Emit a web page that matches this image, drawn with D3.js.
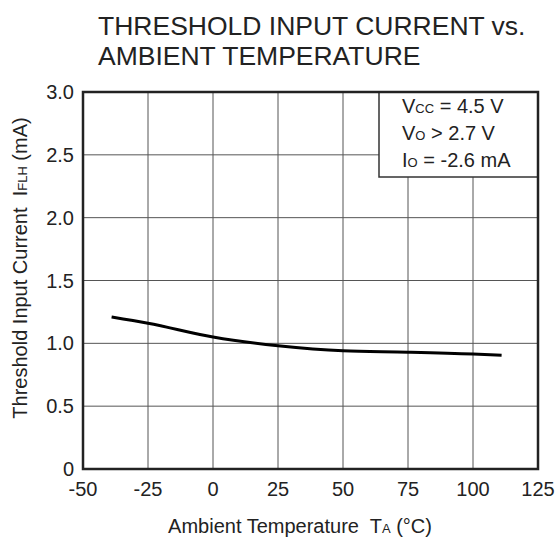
<!DOCTYPE html>
<meta charset="utf-8">
<title>Threshold Input Current vs. Ambient Temperature</title>
<style>

body {
  margin: 0;
  background-color: white;
}

text {
  font-family: "Liberation Sans", Arial, sans-serif;
  fill: #222;
  white-space: pre;
}

.grid line {
  stroke: #555;
  stroke-width: 1px;
}

</style>
<body>
<script src="https://cdnjs.cloudflare.com/ajax/libs/d3/7.8.5/d3.min.js"></script>
<script>

var temps = [-39, -25, 0, 25, 50, 75, 100, 111],
    currents = [1.21, 1.16, 1.05, 0.98, 0.94, 0.93, 0.915, 0.905];

var xTicks = [-50, -25, 0, 25, 50, 75, 100, 125],
    yTicks = [0, 0.5, 1.0, 1.5, 2.0, 2.5, 3.0];

var titleLines = ["THRESHOLD INPUT CURRENT vs.", "AMBIENT TEMPERATURE"];

var width = 556,
    height = 539,
    pl = 83,
    pr = 538,
    pt = 92,
    pb = 469;

var x = d3.scaleLinear().domain([-50, 125]).range([pl, pr]),
    y = d3.scaleLinear().domain([0, 3]).range([pb, pt]);

var svg = d3.select("body").append("svg")
    .attr("width", width)
    .attr("height", height);

// title
svg.selectAll(".title")
    .data(titleLines)
  .enter().append("text")
    .attr("class", "title")
    .attr("x", 98)
    .attr("y", function(d, i) { return 35 + i * 30; })
    .style("font-size", "26.5px")
    .text(function(d) { return d; });

// grid
var grid = svg.append("g").attr("class", "grid");

grid.selectAll(".vx")
    .data(xTicks.slice(1, -1))
  .enter().append("line")
    .attr("x1", x).attr("x2", x)
    .attr("y1", pt).attr("y2", pb);

grid.selectAll(".hy")
    .data(yTicks.slice(1, -1))
  .enter().append("line")
    .attr("x1", pl).attr("x2", pr)
    .attr("y1", y).attr("y2", y);

// curve
var line = d3.line()
    .x(function(d, i) { return x(temps[i]); })
    .y(function(d) { return y(d); })
    .curve(d3.curveMonotoneX);

svg.append("path")
    .datum(currents)
    .attr("d", line)
    .attr("fill", "none")
    .attr("stroke", "#000")
    .attr("stroke-width", 3);

// legend box
var lx = 379;

svg.append("rect")
    .attr("x", lx)
    .attr("y", pt)
    .attr("width", pr - lx)
    .attr("height", 177 - pt)
    .attr("fill", "white")
    .attr("stroke", "#333")
    .attr("stroke-width", 1.5);

var legend = [
  ["V", "CC", " = 4.5 V"],
  ["V", "O", " > 2.7 V"],
  ["I", "O", " = -2.6 mA"]
];

legend.forEach(function(d, i) {
  var t = svg.append("text")
      .attr("x", 402)
      .attr("y", 113 + i * 27)
      .style("font-size", "20px");
  t.append("tspan").text(d[0]);
  t.append("tspan").style("font-size", "13px").text(d[1]);
  t.append("tspan").text(d[2]);
});

// frame
svg.append("rect")
    .attr("x", pl)
    .attr("y", pt)
    .attr("width", pr - pl)
    .attr("height", pb - pt)
    .attr("fill", "none")
    .attr("stroke", "#222")
    .attr("stroke-width", 2.5);

// tick labels
svg.selectAll(".xt")
    .data(xTicks)
  .enter().append("text")
    .attr("x", x)
    .attr("y", 496)
    .attr("text-anchor", "middle")
    .style("font-size", "20px")
    .text(function(d) { return d; });

svg.selectAll(".yt")
    .data(yTicks)
  .enter().append("text")
    .attr("x", 74)
    .attr("y", function(d) { return y(d) + 7; })
    .attr("text-anchor", "end")
    .style("font-size", "20px")
    .text(function(d) { return d === 0 ? "0" : d.toFixed(1); });

// axis titles
var xt = svg.append("text")
    .attr("x", 300)
    .attr("y", 533)
    .attr("text-anchor", "middle")
    .style("font-size", "20px");
xt.append("tspan").text("Ambient Temperature  T");
xt.append("tspan").style("font-size", "13px").text("A");
xt.append("tspan").text(" (\u00b0C)");

var yt = svg.append("text")
    .attr("transform", "translate(27,268)rotate(-90)")
    .attr("text-anchor", "middle")
    .style("font-size", "20px");
yt.append("tspan").text("Threshold Input Current  I");
yt.append("tspan").style("font-size", "13px").text("FLH");
yt.append("tspan").text(" (mA)");

</script>
